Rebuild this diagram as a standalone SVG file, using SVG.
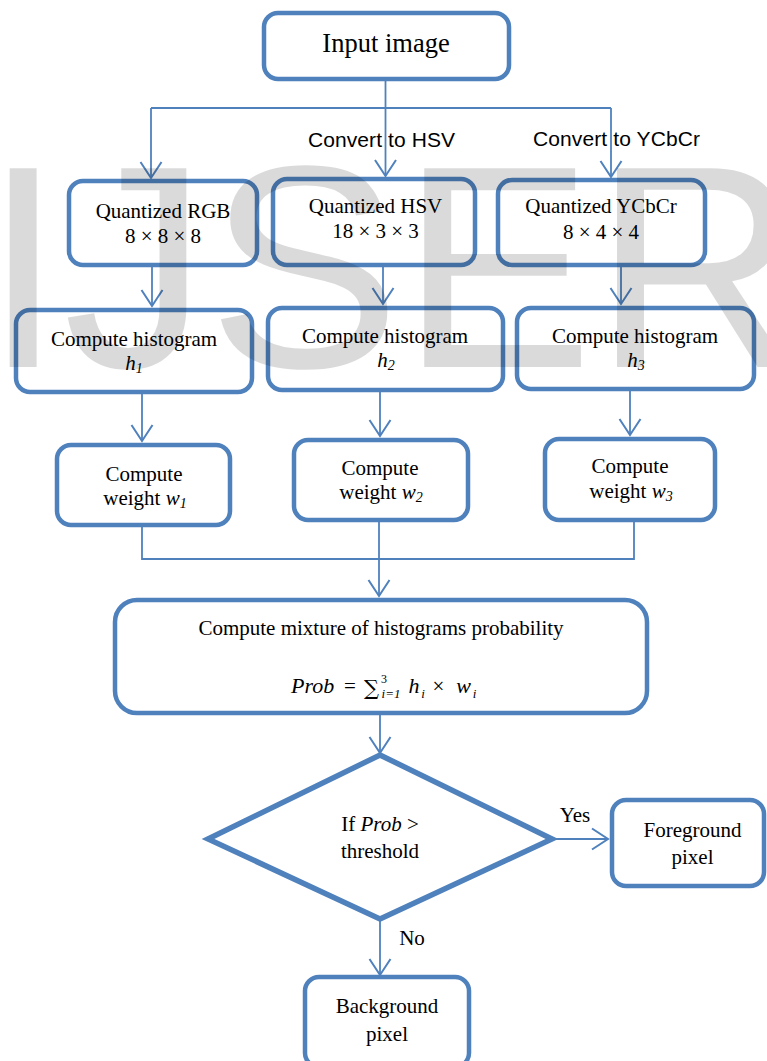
<svg xmlns="http://www.w3.org/2000/svg" width="767" height="1061" viewBox="0 0 767 1061">
<style>
.box{fill:none;stroke:#4F81BD;stroke-width:4.5}
.ln{fill:none;stroke:#4F81BD;stroke-width:1.8}
.t{font-family:"Liberation Serif","Times New Roman",serif;font-size:21px;fill:#000;text-anchor:middle}
.s{font-family:"Liberation Sans",Arial,sans-serif;font-size:21px;fill:#000}
.i{font-style:italic}
.sub{font-size:14px;font-style:italic}
.wm{font-family:"Liberation Sans",Arial,sans-serif;font-size:289px;fill:#000;fill-opacity:0.145}
</style>
<defs>
<marker id="arr" markerUnits="userSpaceOnUse" markerWidth="22" markerHeight="26" viewBox="-18 -13 20 26" refX="0" refY="0" orient="auto">
<path d="M-16,-10.5 L0,0 L-16,10.5" fill="none" stroke="#4F81BD" stroke-width="2"/>
</marker>
</defs>
<rect width="767" height="1061" fill="#fff"/>
<g id="connectors">
<path class="ln" d="M385.5,81 V176" marker-end="url(#arr)"/>
<path class="ln" d="M151,108 H611"/>
<path class="ln" d="M151,108 V178" marker-end="url(#arr)"/>
<path class="ln" d="M611,108 V177" marker-end="url(#arr)"/>
<path class="ln" d="M152,267 V306" marker-end="url(#arr)"/>
<path class="ln" d="M383,267 V304" marker-end="url(#arr)"/>
<path class="ln" d="M621,267 V304" marker-end="url(#arr)"/>
<path class="ln" d="M142,394 V441" marker-end="url(#arr)"/>
<path class="ln" d="M380,392 V436" marker-end="url(#arr)"/>
<path class="ln" d="M630,391 V435" marker-end="url(#arr)"/>
<path class="ln" d="M142,527 V559 H634 V522"/>
<path class="ln" d="M379,522 V596" marker-end="url(#arr)"/>
<path class="ln" d="M380,715 V753" marker-end="url(#arr)"/>
<path class="ln" d="M552,839 H608" marker-end="url(#arr)"/>
<path class="ln" d="M380,919 V975" marker-end="url(#arr)"/>
<text class="s" x="308" y="147" textLength="147">Convert to HSV</text>
<text class="s" x="533" y="146" textLength="167">Convert to YCbCr</text>
<text class="t" x="575" y="822">Yes</text>
<text class="t" x="412" y="945">No</text>
</g>
<g id="input">
<rect class="box" x="264" y="13" width="245" height="66" rx="14"/>
<text class="t" x="386" y="52" style="font-size:26.5px">Input image</text>
</g>
<g id="qrgb">
<rect class="box" x="69" y="181" width="188" height="84" rx="14"/>
<text class="t" x="163" y="218">Quantized RGB</text>
<text class="t" x="163" y="243">8 × 8 × 8</text>
</g>
<g id="qhsv">
<rect class="box" x="273" y="179" width="202" height="86" rx="14"/>
<text class="t" x="375.5" y="213">Quantized HSV</text>
<text class="t" x="375.5" y="238">18 × 3 × 3</text>
</g>
<g id="qycbcr">
<rect class="box" x="498" y="180" width="207" height="85" rx="14"/>
<text class="t" x="601" y="213">Quantized YCbCr</text>
<text class="t" x="601" y="239">8 × 4 × 4</text>
</g>
<g id="hist1">
<rect class="box" x="16" y="310" width="236" height="82" rx="14"/>
<text class="t" x="134" y="346">Compute histogram</text>
<text class="t" x="134" y="370"><tspan class="i">h</tspan><tspan class="sub" dy="3">1</tspan></text>
</g>
<g id="hist2">
<rect class="box" x="268" y="308" width="235" height="82" rx="14"/>
<text class="t" x="385" y="343">Compute histogram</text>
<text class="t" x="386" y="367"><tspan class="i">h</tspan><tspan class="sub" dy="3">2</tspan></text>
</g>
<g id="hist3">
<rect class="box" x="517" y="308" width="237" height="81" rx="14"/>
<text class="t" x="635" y="343">Compute histogram</text>
<text class="t" x="636" y="367"><tspan class="i">h</tspan><tspan class="sub" dy="3">3</tspan></text>
</g>
<g id="w1">
<rect class="box" x="57" y="445" width="173" height="80" rx="14"/>
<text class="t" x="144" y="481">Compute</text>
<text class="t" x="145" y="505">weight <tspan class="i">w</tspan><tspan class="sub" dy="3">1</tspan></text>
</g>
<g id="w2">
<rect class="box" x="294" y="440" width="174" height="80" rx="14"/>
<text class="t" x="380" y="475">Compute</text>
<text class="t" x="381" y="499">weight <tspan class="i">w</tspan><tspan class="sub" dy="3">2</tspan></text>
</g>
<g id="w3">
<rect class="box" x="545" y="439" width="170" height="81" rx="14"/>
<text class="t" x="630" y="473">Compute</text>
<text class="t" x="631" y="498">weight <tspan class="i">w</tspan><tspan class="sub" dy="3">3</tspan></text>
</g>
<g id="mixture">
<rect class="box" x="115" y="600" width="532" height="113" rx="22"/>
<text class="t" x="381" y="635">Compute mixture of histograms probability</text>
<text class="t i" x="291" y="693" style="text-anchor:start;font-size:22px">Prob</text>
<text class="t" x="350" y="693">=</text>
<text class="t" x="371.5" y="695" style="font-family:'DejaVu Serif',serif;font-size:21px">∑</text>
<text class="t" x="384" y="683" style="font-size:12px">3</text>
<text class="t i" x="391" y="698" style="font-size:13px">i=1</text>
<text class="t i" x="414" y="693" style="font-size:22px">h</text>
<text class="t i" x="423" y="698" style="font-size:13px">i</text>
<text class="t" x="438.5" y="693">×</text>
<text class="t i" x="463.5" y="693" style="font-size:22px">w</text>
<text class="t i" x="474.5" y="698" style="font-size:13px">i</text>
</g>
<g id="decision">
<polygon points="380,755 552,839 380,919 208,839" fill="none" stroke="#4F81BD" stroke-width="5.5" stroke-linejoin="miter"/>
<text class="t" x="380" y="831">If <tspan class="i">Prob</tspan> &gt;</text>
<text class="t" x="380" y="858">threshold</text>
</g>
<g id="foreground">
<rect class="box" x="612" y="800" width="152" height="86" rx="14"/>
<text class="t" x="692.5" y="837">Foreground</text>
<text class="t" x="692.5" y="864">pixel</text>
</g>
<g id="background">
<rect class="box" x="305" y="977" width="164" height="90" rx="14"/>
<text class="t" x="387" y="1013">Background</text>
<text class="t" x="387" y="1041">pixel</text>
</g>
<text class="wm" x="-17" y="367">IJSER</text>
</svg>
